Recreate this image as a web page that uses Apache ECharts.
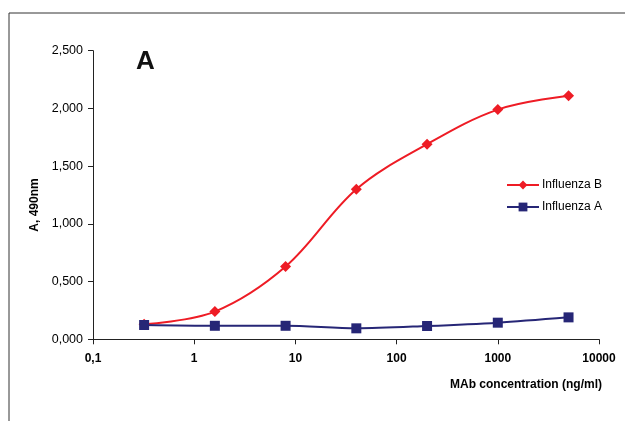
<!DOCTYPE html>
<html>
<head>
<meta charset="utf-8">
<script src="https://cdn.jsdelivr.net/npm/echarts@6/dist/echarts.min.js"></script>
<style>
html,body{margin:0;padding:0;background:#fff;}
#c{width:625px;height:421px;}
</style>
</head>
<body>
<div id="c"></div>
<script>
const concentrations = [0.32, 1.6, 8, 40, 200, 1000, 5000];
const influenzaB = [0.13, 0.24, 0.63, 1.30, 1.69, 1.99, 2.11];
const influenzaA = [0.124, 0.117, 0.117, 0.095, 0.115, 0.144, 0.19];
const xTicks = [0.1, 1, 10, 100, 1000, 10000];
const seriesNames = ['Influenza B', 'Influenza A'];

const pairs = vals => concentrations.map((c, i) => [c, vals[i]]);
const font = 'Liberation Sans, Arial, sans-serif';

const chart = echarts.init(document.getElementById('c'), null, {renderer: 'canvas'});
chart.setOption({
  animation: false,
  backgroundColor: '#fff',
  grid: {left: 93, right: 26, top: 50.7, bottom: 81.7, containLabel: false},
  xAxis: {
    type: 'log', logBase: 10, min: xTicks[0], max: xTicks[xTicks.length - 1],
    axisLine: {lineStyle: {color: '#222', width: 1}},
    axisTick: {show: true, length: 5, inside: false, lineStyle: {color: '#222'}},
    minorTick: {show: false},
    splitLine: {show: false},
    axisLabel: {
      fontFamily: font, fontSize: 12, fontWeight: 'bold', color: '#000', margin: 13,
      formatter: v => {
        const r = xTicks.find(t => Math.abs(t - v) / t < 1e-6);
        if (r === undefined) return '';
        return String(r).replace('.', ',');
      }
    }
  },
  yAxis: {
    type: 'value', min: 0, max: 2.5, interval: 0.5,
    axisLine: {show: true, lineStyle: {color: '#222', width: 1}},
    axisTick: {show: true, length: 5, lineStyle: {color: '#222'}},
    splitLine: {show: false},
    axisLabel: {
      fontFamily: font, fontSize: 12.5, color: '#000', margin: 10,
      formatter: v => v.toFixed(3).replace('.', ',')
    }
  },
  legend: {
    orient: 'vertical', left: 506, top: 179, padding: 0,
    itemWidth: 32, itemHeight: 11, itemGap: 10,
    textStyle: {fontFamily: font, fontSize: 12, color: '#000', padding: [0, 0, 0, -2]},
    data: seriesNames
  },
  series: [
    {
      name: seriesNames[0], type: 'line', data: pairs(influenzaB),
      smooth: 0.35, symbol: 'diamond', symbolSize: 11,
      lineStyle: {color: '#ee1c25', width: 2},
      itemStyle: {color: '#ee1c25'}
    },
    {
      name: seriesNames[1], type: 'line', data: pairs(influenzaA),
      smooth: 0.3, symbol: 'rect', symbolSize: 10,
      lineStyle: {color: '#262676', width: 2},
      itemStyle: {color: '#262676'}
    }
  ],
  graphic: [
    {type: 'line', shape: {x1: 9, y1: 13, x2: 9, y2: 421}, style: {stroke: '#333', lineWidth: 1}},
    {type: 'line', shape: {x1: 9, y1: 13, x2: 625, y2: 13}, style: {stroke: '#333', lineWidth: 1}},
    {type: 'text', left: 136, top: 49, style: {text: 'A', font: 'bold 26px ' + font, fill: '#111'}},
    {type: 'text', x: 35, y: 205, rotation: Math.PI / 2,
     style: {text: 'A, 490nm', font: 'bold 12px ' + font, fill: '#000', align: 'center', verticalAlign: 'middle'}},
    {type: 'text', x: 602, y: 385,
     style: {text: 'MAb concentration (ng/ml)', font: 'bold 12px ' + font, fill: '#000', align: 'right', verticalAlign: 'middle'}}
  ]
});
</script>
</body>
</html>
